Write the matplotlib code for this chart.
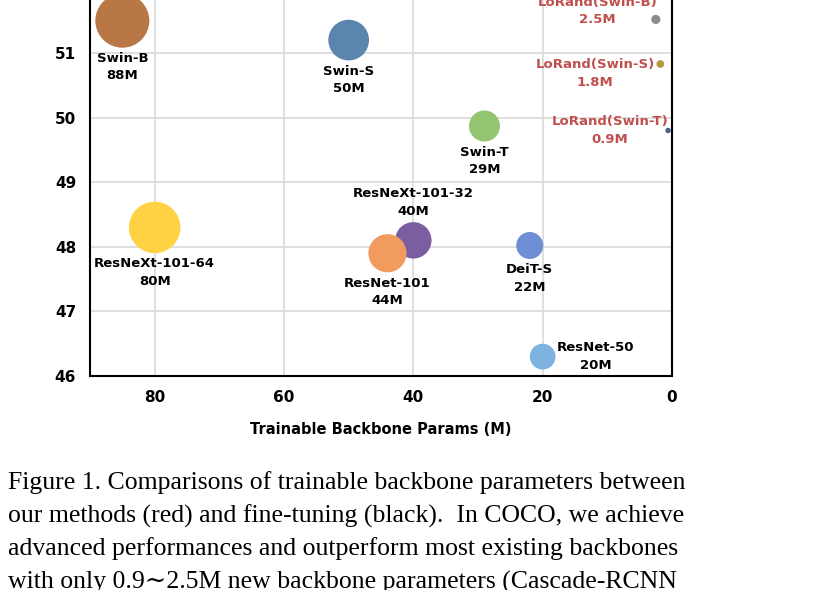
import matplotlib
matplotlib.use("Agg")
import matplotlib.pyplot as plt

names = ["Swin-B", "Swin-S", "Swin-T", "ResNeXt-101-64", "ResNeXt-101-32", "ResNet-101",
         "DeiT-S", "ResNet-50", "LoRand(Swin-B)", "LoRand(Swin-S)", "LoRand(Swin-T)"]
params = [88, 50, 29, 80, 40, 44, 22, 20, 2.5, 1.8, 0.9]
xpos = [85, 50, 29, 80, 40, 44, 22, 20, 2.5, 1.8, 0.6]
ap = [51.5, 51.2, 49.87, 48.3, 48.1, 47.9, 48.02, 46.3, 51.52, 50.83, 49.8]
param_labels = ["88M", "50M", "29M", "80M", "40M", "44M", "22M", "20M", "2.5M", "1.8M", "0.9M"]
colors = ["#B87745", "#5B84AE", "#93C470", "#FFD244", "#7B5EA0", "#F29B5E",
          "#6E8FD4", "#7EB2E0", "#8C8C8C", "#B59A3C", "#4A6190"]
placement = ["below", "below", "below", "below", "above", "below", "below", "right", "left", "left", "left"]
xticks = [80, 60, 40, 20, 0]
yticks = [46, 47, 48, 49, 50, 51]
caption = ["Figure 1. Comparisons of trainable backbone parameters between",
           "our methods (red) and fine-tuning (black).  In COCO, we achieve",
           "advanced performances and outperform most existing backbones",
           "with only 0.9\u223c2.5M new backbone parameters (Cascade-RCNN"]

fig = plt.figure(figsize=(8.3, 5.9), dpi=100)
ax = fig.add_axes([90/830, 1-376/590, 582/830, (376+11.6)/590])
ax.set_xlim(90, 0)
ax.set_ylim(46, 52)
ax.grid(True, color="#d9d9d9", lw=1.2)
ax.set_axisbelow(True)
ax.spines["top"].set_visible(False)
for s in ["left", "bottom", "right"]:
    ax.spines[s].set_color("black")
    ax.spines[s].set_linewidth(1.5)
ax.set_xticks(xticks)
ax.set_yticks(yticks)
ax.tick_params(length=0, pad=10, labelsize=11)
for t in ax.get_xticklabels() + ax.get_yticklabels():
    t.set_fontweight("bold")
ax.set_xlabel("Trainable Backbone Params (M)", fontsize=10.5, fontweight="bold", labelpad=12)

k = (0.72*54)**2/88
sizes = [k*p for p in params]
ax.scatter(xpos, ap, s=sizes, c=colors, zorder=3, linewidths=0)

left_off = {"LoRand(Swin-B)": (-42, 6), "LoRand(Swin-S)": (-47, -7), "LoRand(Swin-T)": (-42, 0)}
for n, x, a, lab, s, pl in zip(names, xpos, ap, param_labels, sizes, placement):
    r = (s**0.5)/2
    col = "#C0504D" if n.startswith("LoRand") else "black"
    if pl == "below":
        off, va = (0, -(r+3)), "top"
    elif pl == "above":
        off, va = (0, r+3), "bottom"
    elif pl == "right":
        off, va = (38, 0), "center"
    else:
        off, va = left_off[n], "center"
    ax.annotate(n + "\n" + lab, (x, a), xytext=off, textcoords="offset points", ha="center", va=va,
                fontsize=9.5, fontweight="bold", color=col, linespacing=1.45,
                annotation_clip=False)

for i, line in enumerate(caption):
    fig.text(8/830, 1-(483+33*i)/590, line, fontsize=18.5,
             family=["Liberation Serif", "DejaVu Serif"], va="center", ha="left")

fig.savefig("out.png", dpi=100)
